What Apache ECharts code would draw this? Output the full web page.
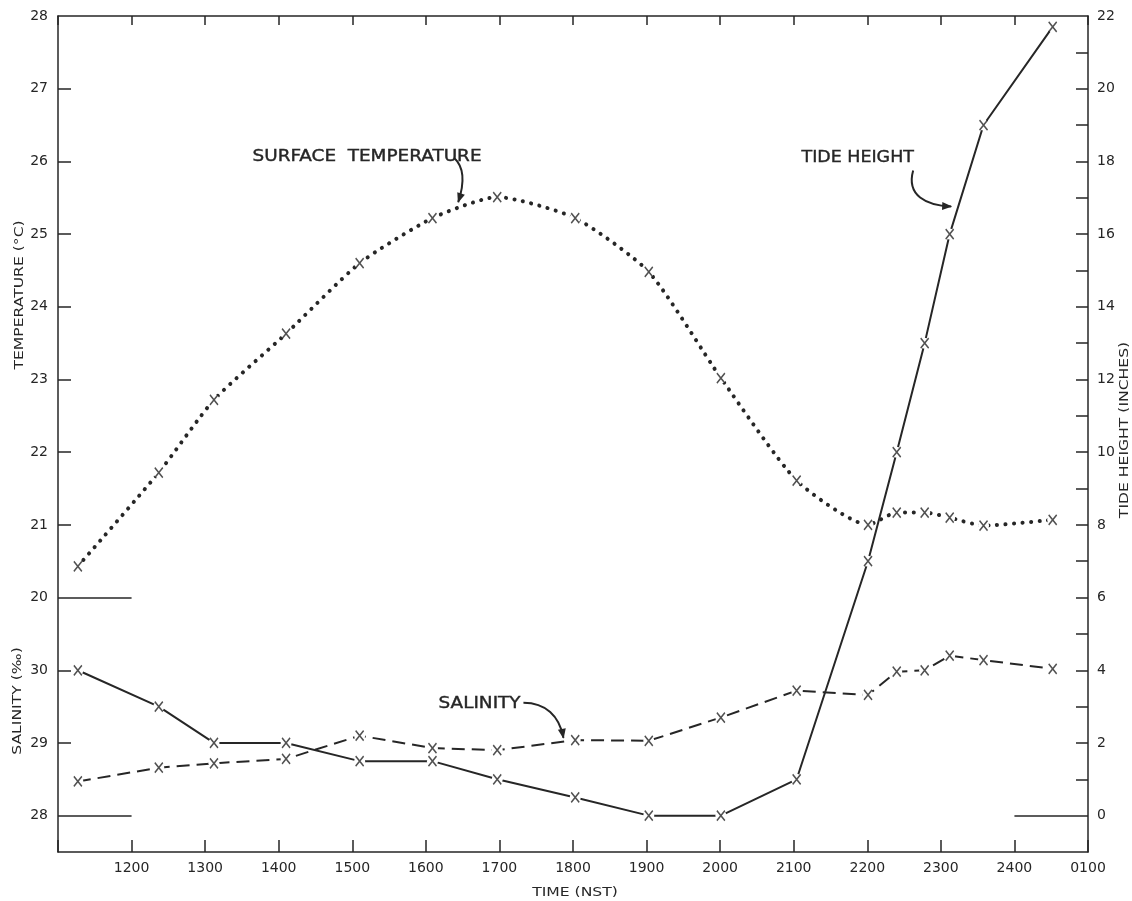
<!DOCTYPE html>
<html>
<head>
<meta charset="utf-8">
<script src="https://cdn.jsdelivr.net/npm/echarts@6/dist/echarts.min.js"></script>
<style>
  html, body { margin: 0; padding: 0; background: #ffffff; }
  #chart { width: 1132px; height: 901px; }
</style>
</head>
<body>
<div id="chart"></div>
<script>
// Observation times, decimal hours NST (values above 24 fall after midnight)
const times = [11.27, 12.37, 13.12, 14.10, 15.10, 16.09, 16.97, 18.03, 19.03, 20.01, 21.04, 22.01, 22.40, 22.78, 23.12, 23.58, 24.52];

// Surface temperature (°C)
const surfaceTemperature = [20.43, 21.72, 22.72, 23.63, 24.60, 25.22, 25.51, 25.22, 24.48, 23.02, 21.61, 21.00, 21.17, 21.17, 21.10, 20.99, 21.07];

// Salinity (‰)
const salinity = [28.47, 28.66, 28.72, 28.78, 29.10, 28.93, 28.90, 29.04, 29.03, 29.35, 29.72, 29.66, 29.98, 30.00, 30.20, 30.14, 30.02];

// Tide height (inches)
const tideHeight = [4.0, 3.0, 2.0, 2.0, 1.5, 1.5, 1.0, 0.5, 0.0, 0.0, 1.0, 7.0, 10.0, 13.0, 16.0, 19.0, 21.7];

// Tick labels
const timeLabels = ['1200', '1300', '1400', '1500', '1600', '1700', '1800', '1900', '2000', '2100', '2200', '2300', '2400', '0100'];
const temperatureLabels = [20, 21, 22, 23, 24, 25, 26, 27, 28];
const salinityLabels = [28, 29, 30];
const tideLabels = [0, 2, 4, 6, 8, 10, 12, 14, 16, 18, 20, 22];

const ink = '#262626';
const fontFamily = 'DejaVu Sans';
const xGlyph = 'path://M0,0L9,11M9,0L0,11';

const chart = echarts.init(document.getElementById('chart'), null, { renderer: 'canvas' });

function points(values) {
  return times.map((t, i) => [t, values[i]]);
}

function range(a, b, step) {
  const out = [];
  for (let v = a; v <= b; v += step) out.push(v);
  return out;
}

const edgeLine = {
  silent: true,
  symbol: ['none', 'none'],
  label: { show: false },
  lineStyle: { type: 'solid', color: ink, width: 1.5 },
  animation: false
};

function trace(name, values, yAxisIndex, lineStyle, smooth, edge) {
  return {
    name: name,
    type: 'line',
    xAxisIndex: 0,
    yAxisIndex: yAxisIndex,
    data: points(values),
    smooth: smooth,
    symbol: 'circle',
    symbolSize: 11,
    itemStyle: { color: '#ffffff', borderWidth: 0 },
    lineStyle: Object.assign({ color: ink }, lineStyle),
    emphasis: { disabled: true },
    markLine: Object.assign({ data: [edge] }, edgeLine),
    z: 2,
    animation: false
  };
}

function crosses(name, values, yAxisIndex) {
  return {
    name: name + ' points',
    type: 'scatter',
    xAxisIndex: 0,
    yAxisIndex: yAxisIndex,
    data: points(values),
    symbol: xGlyph,
    symbolSize: [8, 10],
    itemStyle: { color: 'none', borderColor: ink, borderWidth: 1.6 },
    emphasis: { disabled: true },
    z: 5,
    animation: false
  };
}

const tickLabelStyle = { color: ink, fontSize: 14, fontFamily: fontFamily };
const frameLine = { show: true, onZero: false, lineStyle: { color: ink, width: 1.5 } };

chart.setOption({
  backgroundColor: '#ffffff',
  animation: false,
  grid: { left: 58, right: 44, top: 16, bottom: 49, containLabel: false, outerBoundsMode: 'none' },
  xAxis: [
    {
      type: 'value', position: 'bottom', min: 11, max: 25, interval: 1,
      axisLine: frameLine,
      axisTick: { inside: true, length: 12, lineStyle: { color: ink, width: 1.5 } },
      axisLabel: Object.assign({ margin: 9, formatter: v => timeLabels[Math.round(v) - 12] || '' }, tickLabelStyle),
      splitLine: { show: false }
    },
    {
      type: 'value', position: 'top', min: 11, max: 25, interval: 1,
      axisLine: frameLine,
      axisTick: { inside: true, length: 9, lineStyle: { color: ink, width: 1.5 } },
      axisLabel: { show: false },
      splitLine: { show: false }
    }
  ],
  yAxis: [
    {
      type: 'value', position: 'left', min: 16.5, max: 28,
      axisLine: frameLine,
      axisTick: { inside: true, length: 13, customValues: range(21, 27, 1), lineStyle: { color: ink, width: 1.5 } },
      axisLabel: Object.assign({ margin: 10, customValues: temperatureLabels }, tickLabelStyle),
      splitLine: { show: false }
    },
    {
      type: 'value', position: 'left', min: 27.5, max: 39,
      axisLine: { show: false, onZero: false },
      axisTick: { inside: true, length: 13, customValues: [29, 30], lineStyle: { color: ink, width: 1.5 } },
      axisLabel: Object.assign({ margin: 10, customValues: salinityLabels }, tickLabelStyle),
      splitLine: { show: false }
    },
    {
      type: 'value', position: 'right', min: -1, max: 22,
      axisLine: frameLine,
      axisTick: { inside: true, length: 12, customValues: range(1, 21, 1), lineStyle: { color: ink, width: 1.5 } },
      axisLabel: Object.assign({ margin: 9, customValues: tideLabels }, tickLabelStyle),
      splitLine: { show: false }
    }
  ],
  series: [
    trace('Surface temperature', surfaceTemperature, 0,
      { width: 4, type: [0.1, 8.4], cap: 'round' }, 0.2,
      [{ coord: [11, 20] }, { coord: [12, 20] }]),
    trace('Salinity', salinity, 1,
      { width: 2, type: [13, 7] }, false,
      [{ coord: [11, 28] }, { coord: [12, 28] }]),
    trace('Tide height', tideHeight, 2,
      { width: 2, type: 'solid' }, false,
      [{ coord: [24, 0] }, { coord: [25, 0] }]),
    crosses('Surface temperature', surfaceTemperature, 0),
    crosses('Salinity', salinity, 1),
    crosses('Tide height', tideHeight, 2)
  ]
});

// Callout labels with curved arrows, anchored in axis units
const callouts = [
  { text: 'SURFACE  TEMPERATURE', axis: 0, at: [15.2, 26.06], stretch: 1.15,
    tip: [16.44, 25.44], bend: [[-4, -44], [9, -32], [4, -12]] },
  { text: 'TIDE HEIGHT', axis: 2, at: [21.87, 18.11], stretch: 1.09,
    tip: [23.14, 16.76], bend: [[-38, -36], [-45, -11], [-25, -1]] },
  { text: 'SALINITY', axis: 1, at: [16.73, 29.54], stretch: 1.15,
    tip: [17.87, 29.07], bend: [[-40, -35], [-18, -35], [-4, -22]] }
];

function toPixel(axis, value) {
  return chart.convertToPixel({ xAxisIndex: 0, yAxisIndex: axis }, value);
}

const graphics = [];
callouts.forEach(c => {
  const p = toPixel(c.axis, c.at);
  graphics.push({
    type: 'text', x: p[0], y: p[1], scaleX: c.stretch, silent: true, z: 10,
    style: { text: c.text, fill: ink, fontSize: 16, fontFamily: fontFamily, align: 'center', verticalAlign: 'middle',
             stroke: ink, lineWidth: 0.4 }
  });
  const t = toPixel(c.axis, c.tip);
  const s = [t[0] + c.bend[0][0], t[1] + c.bend[0][1]];
  const c1 = [t[0] + c.bend[1][0], t[1] + c.bend[1][1]];
  const c2 = [t[0] + c.bend[2][0], t[1] + c.bend[2][1]];
  graphics.push({
    type: 'bezierCurve', silent: true, z: 10,
    shape: { x1: s[0], y1: s[1], cpx1: c1[0], cpy1: c1[1], cpx2: c2[0], cpy2: c2[1], x2: t[0], y2: t[1] },
    style: { stroke: ink, lineWidth: 2, fill: null }
  });
  const dx = t[0] - c2[0], dy = t[1] - c2[1];
  const len = Math.hypot(dx, dy) || 1;
  const ux = dx / len, uy = dy / len;
  const bx = t[0] - ux * 9, by = t[1] - uy * 9;
  graphics.push({
    type: 'polygon', silent: true, z: 10,
    shape: { points: [[t[0] + ux * 1, t[1] + uy * 1], [bx - uy * 4, by + ux * 4], [bx + uy * 4, by - ux * 4]] },
    style: { fill: ink }
  });
});

// Axis titles
const titles = [
  { text: 'TEMPERATURE (°C)', x: 20, y: 295, rotation: Math.PI / 2 },
  { text: 'SALINITY (‰)', x: 18, y: 701, rotation: Math.PI / 2 },
  { text: 'TIDE HEIGHT (INCHES)', x: 1125, y: 430, rotation: Math.PI / 2 },
  { text: 'TIME (NST)', x: 575, y: 893, rotation: 0 }
];
titles.forEach(t => {
  graphics.push({
    type: 'text', x: t.x, y: t.y, rotation: t.rotation, scaleX: 1.2, silent: true,
    style: { text: t.text, fill: ink, fontSize: 13, fontFamily: fontFamily, align: 'center', verticalAlign: 'middle' }
  });
});

chart.setOption({ graphic: graphics });
</script>
</body>
</html>
